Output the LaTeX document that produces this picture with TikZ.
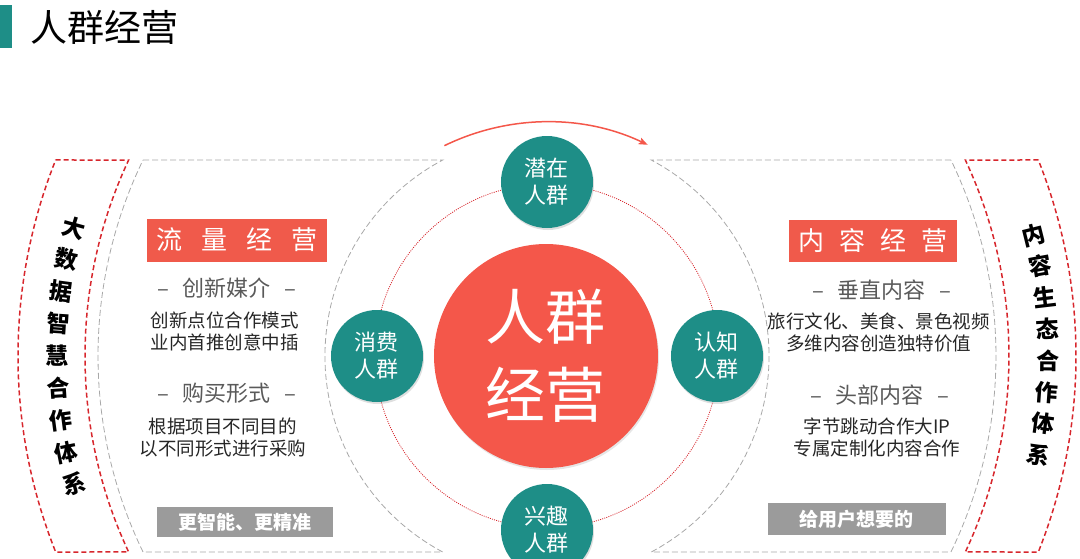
\documentclass[tikz,border=0pt]{standalone}
\usepackage{fontspec}
\setmainfont{Noto Sans CJK SC}
\usepackage{tikz}
\usetikzlibrary{arrows.meta, positioning, shadows}
\definecolor{cteal}{HTML}{1E8E87}
\definecolor{cred}{HTML}{F4574A}
\definecolor{cbox}{HTML}{F05A4B}
\definecolor{cline}{HTML}{D7262C}
\definecolor{cgray}{HTML}{9B9B9B}
\definecolor{cdash}{HTML}{A8A8A8}
\definecolor{csub}{HTML}{5A5A5A}
\tikzset{
  hub/.style={circle, fill=cred, text=white, minimum size=224pt, inner sep=0pt, align=center,
              font=\fontsize{60}{78}\selectfont,
              drop shadow={opacity=0.2, shadow xshift=1pt, shadow yshift=-2pt}},
  crowd/.style={circle, fill=cteal, text=white, minimum size=92pt, inner sep=0pt, align=center,
                font=\fontsize{22}{27}\selectfont,
                drop shadow={opacity=0.25, shadow xshift=1pt, shadow yshift=-2pt}},
  tagbox/.style={rectangle, fill=cbox, text=white, minimum width=180pt, minimum height=43pt,
                 font=\fontsize{26}{26}\selectfont},
  subhead/.style={text=csub, font=\fontsize{22}{22}\selectfont},
  bodytext/.style={text=black!85, align=center, font=\fontsize{18.5}{22}\selectfont},
  slogan/.style={rectangle, fill=cgray, text=white, minimum width=176pt, minimum height=30pt,
                 font=\fontsize{19}{19}\selectfont\bfseries},
  ringchar/.style={inner sep=0pt, font=\fontsize{23}{23}\selectfont\bfseries},
  graydash/.style={draw=cdash, dash pattern=on 6pt off 3pt, line width=0.8pt},
  reddash/.style={draw=cline, dash pattern=on 5pt off 3pt, line width=1.5pt},
  reddot/.style={draw=cline, dash pattern=on 1pt off 1.2pt, line width=0.8pt},
  turn/.style={draw=cred, line width=1.5pt, -{Stealth[length=9pt, width=7pt, inset=2pt]}}
}
\begin{document}
\begin{tikzpicture}[x=1pt, y=1pt]
  \useasboundingbox (-547,-202) rectangle (533,356);
  \fill[cteal] (-547,351) rectangle (-535,308);
  \node[anchor=west, font=\fontsize{37}{37}\selectfont] (title) at (-520,329) {人群经营};

  \draw[graydash] (154.12:449) -- (118:222) arc[start angle=118, end angle=242, radius=222]
    -- (205.88:449) arc[start angle=205.88, end angle=154.12, radius=449];
  \draw[graydash] (25.88:449) -- (62:222) arc[start angle=62, end angle=-62, radius=222]
    -- (-25.88:449) arc[start angle=-25.88, end angle=25.88, radius=449];
  \draw[reddash] (158.25:529) -- (154.9:462) arc[start angle=154.9, end angle=205.1, radius=462]
    -- (201.75:529) arc[start angle=201.75, end angle=158.25, radius=529] -- cycle;
  \draw[reddash] (21.75:529) -- (25.1:462) arc[start angle=25.1, end angle=-25.1, radius=462]
    -- (-21.75:529) arc[start angle=-21.75, end angle=21.75, radius=529] -- cycle;
  \draw[turn] (116:234) arc[start angle=116, end angle=64.5, radius=234];
  \draw[reddot] (0,0) circle[radius=172];

  \node[hub] (core) at (-1,0) {人群\\经营};
  \node[crowd] (latent) at (90:174) {潜在\\人群};
  \node[crowd] (aware) at (0:170) {认知\\人群};
  \node[crowd] (interest) at (270:174) {兴趣\\人群};
  \node[crowd] (buyer) at (180:170) {消费\\人群};

  \foreach \ch [count=\i from 0] in {大,数,据,智,慧,合,作,体,系}
    \node[ringchar, rotate={-15.2+3.79*\i}] (lring\i) at ({164.8+3.79*\i}:490) {\ch};
  \foreach \ch [count=\i from 0] in {内,容,生,态,合,作,体,系}
    \node[ringchar, rotate={13.95-3.62*\i}] (rring\i) at ({13.95-3.62*\i}:501) {\ch};

  \node[tagbox] (traffic) at (-310,116) {流\hspace{19pt}量\hspace{19pt}经\hspace{19pt}营};
  \node[subhead] (media) at (-320,68) {–\hspace{14pt}创新媒介\hspace{14pt}–};
  \node[bodytext] (mediatxt) at (-322,25) {创新点位合作模式\\业内首推创意中插};
  \node[subhead] (buy) at (-320,-37) {–\hspace{14pt}购买形式\hspace{14pt}–};
  \node[bodytext] (buytxt) at (-324,-81) {根据项目不同目的\\以不同形式进行采购};
  \node[slogan] (smart) at (-302,-166) {更智能、更精准};

  \node[tagbox, minimum width=168pt, minimum height=42pt] (content) at (326,115) {内\hspace{15pt}容\hspace{15pt}经\hspace{15pt}营};
  \node[subhead] (vertical) at (335,66) {–\hspace{14pt}垂直内容\hspace{14pt}–};
  \node[bodytext] (verttxt) at (332,24) {旅行文化、美食、景色视频\\多维内容创造独特价值};
  \node[subhead] (headip) at (333,-39) {–\hspace{14pt}头部内容\hspace{14pt}–};
  \node[bodytext] (headtxt) at (330,-81) {字节跳动合作大IP\\专属定制化内容合作};
  \node[slogan, minimum width=177pt, minimum height=32pt] (want) at (310,-163) {给用户想要的};
\end{tikzpicture}
\end{document}
